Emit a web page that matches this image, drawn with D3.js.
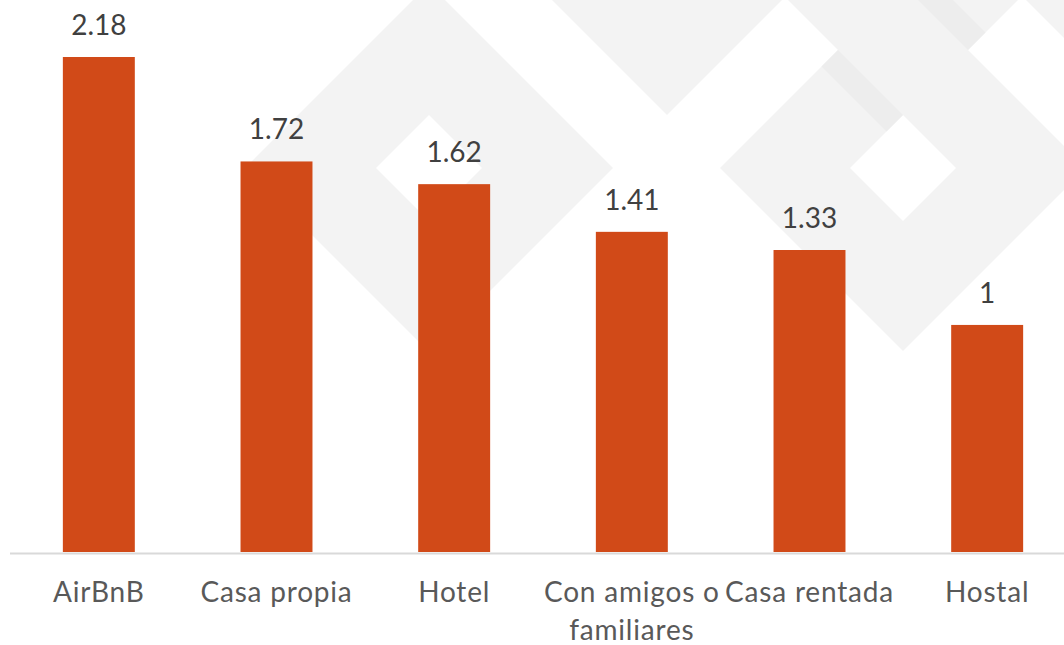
<!DOCTYPE html>
<html>
<head>
<meta charset="utf-8">
<script src="https://cdn.jsdelivr.net/npm/d3@7"></script>
<style>
  html, body { margin: 0; padding: 0; background: #fff; overflow: hidden; }
  text { font-family: Lato, "Open Sans", sans-serif; }
</style>
</head>
<body>
<script>
// data
const categories = ["AirBnB", "Casa propia", "Hotel", "Con amigos o familiares", "Casa rentada", "Hostal"];
const values = [2.18, 1.72, 1.62, 1.41, 1.33, 1];

// faint watermark in the background: [cx, cy, half diagonal, hole half diagonal]
const rings = [[429, 168, 184, 53], [903, 168, 183, 53]];
const plainDiamonds = [[667, -69, 184], [903, -69, 184], [1141, -69, 184]];
const shadowStripes = [
  [[838, 50], [903, 115], [886.5, 131.5], [821.5, 66.5]],
  [[898, -20], [968, 50], [985.5, 32.5], [933, -20]]
];

const w = 1064;
const h = 645;
const baseY = 552;

const svg = d3.select("body")
  .append("svg")
  .attr("width", w)
  .attr("height", h);

function diamond(cx, cy, r) {
  return `M${cx},${cy - r}L${cx + r},${cy}L${cx},${cy + r}L${cx - r},${cy}Z`;
}

const bg = svg.append("g").attr("id", "watermark");
bg.selectAll("path.ring")
  .data(rings)
  .enter()
  .append("path")
  .attr("class", "ring")
  .attr("fill", "#f3f3f3")
  .attr("fill-rule", "evenodd")
  .attr("d", (d) => diamond(d[0], d[1], d[2]) + diamond(d[0], d[1], d[3]));
bg.selectAll("path.plain")
  .data(plainDiamonds)
  .enter()
  .append("path")
  .attr("class", "plain")
  .attr("fill", "#f3f3f3")
  .attr("d", (d) => diamond(d[0], d[1], d[2]));
bg.selectAll("polygon")
  .data(shadowStripes)
  .enter()
  .append("polygon")
  .attr("fill", "#ededed")
  .attr("points", (d) => d.map((p) => p.join(",")).join(" "));

const xScale = d3.scaleBand()
  .domain(categories)
  .range([10, 1076])
  .paddingInner(0.595)
  .paddingOuter(0.2975);

const yScale = d3.scaleLinear()
  .domain([0, d3.max(values)])
  .range([baseY, 57]);

const data = categories.map((c, i) => ({ cat: c, val: values[i] }));

svg.selectAll("rect.bar")
  .data(data)
  .enter()
  .append("rect")
  .attr("class", "bar")
  .attr("x", (d) => xScale(d.cat))
  .attr("y", (d) => yScale(d.val))
  .attr("width", xScale.bandwidth())
  .attr("height", (d) => baseY - yScale(d.val))
  .attr("fill", "#d14a18");

// value labels
svg.selectAll("text.val")
  .data(data)
  .enter()
  .append("text")
  .attr("class", "val")
  .attr("x", (d) => xScale(d.cat) + xScale.bandwidth() / 2)
  .attr("y", (d) => yScale(d.val) - 22)
  .attr("text-anchor", "middle")
  .attr("font-size", 28)
  .attr("fill", "#404040")
  .text((d) => String(d.val));

// category axis
const xAxis = d3.axisBottom(xScale).tickSize(0).tickPadding(0);
const axisG = svg.append("g")
  .attr("id", "x-axis")
  .attr("transform", "translate(0," + (baseY + 1.5) + ")")
  .call(xAxis);
axisG.select(".domain")
  .attr("stroke", "#d9d9d9")
  .attr("stroke-width", 2)
  .attr("d", "M10,0H1076");
axisG.selectAll(".tick text")
  .attr("font-size", 28)
  .attr("fill", "#595959")
  .attr("font-family", "Lato, 'Open Sans', sans-serif")
  .attr("letter-spacing", 0.8)
  .attr("dy", null)
  .attr("y", 48)
  .each(function(d) {
    wrap(d3.select(this), xScale.step());
  });

// greedy word wrap, like the spreadsheet does with long labels
function wrap(textSel, maxW) {
  const words = textSel.text().split(" ");
  textSel.text(null);
  let line = [];
  let tspan = textSel.append("tspan").attr("x", 0).attr("dy", 0);
  words.forEach((word) => {
    line.push(word);
    tspan.text(line.join(" "));
    if (tspan.node().getComputedTextLength() > maxW && line.length > 1) {
      line.pop();
      tspan.text(line.join(" "));
      line = [word];
      tspan = textSel.append("tspan").attr("x", 0).attr("dy", 38).text(word);
    }
  });
}
</script>
</body>
</html>
